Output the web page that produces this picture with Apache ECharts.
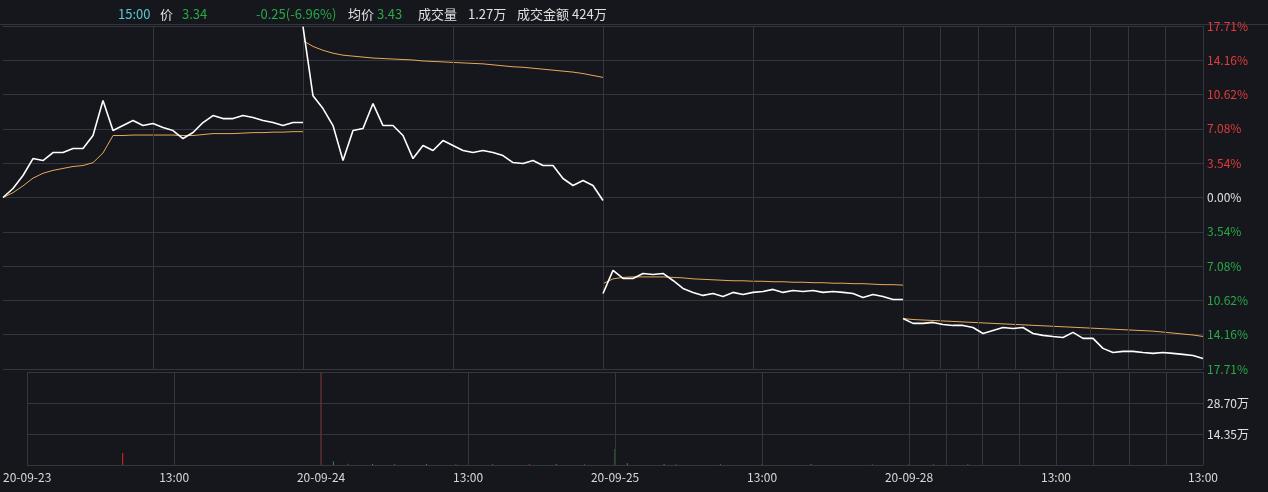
<html lang="zh">
<head>
    <meta charset="UTF-8">
    <title>分时</title>
    <script src="https://cdn.jsdelivr.net/npm/echarts@6/dist/echarts.min.js"></script>
    <style>
        html, body { margin: 0; padding: 0; background: #15171c; }
        #chart { width: 1268px; height: 492px; }
    </style>
</head>
<body>
<div id="chart"></div>
<script>
    // 涨跌幅 (%)，每天 31 个点，每 8 分钟一个
    var day1Price = [0, 0.93, 2.27, 4.02, 3.82, 4.64, 4.64, 5.06, 5.06, 6.4, 10.01, 6.91, 7.43, 7.95, 7.43, 7.64, 7.22, 6.91, 6.09, 6.71, 7.74, 8.46, 8.15, 8.15, 8.46, 8.26, 7.95, 7.74, 7.43, 7.74, 7.74];
    var day2Price = [17.65, 10.5, 9.18, 7.43, 3.82, 6.91, 7.12, 9.7, 7.43, 7.43, 6.4, 4.02, 5.37, 4.85, 5.88, 5.37, 4.85, 4.64, 4.85, 4.64, 4.33, 3.61, 3.51, 3.82, 3.3, 3.3, 1.96, 1.24, 1.75, 1.24, -0.31];
    var day3Price = [-9.91, -7.53, -8.36, -8.36, -7.84, -7.95, -7.84, -8.57, -9.39, -9.8, -10.11, -9.91, -10.22, -9.8, -10.01, -9.8, -9.7, -9.49, -9.8, -9.6, -9.7, -9.6, -9.8, -9.7, -9.8, -9.91, -10.32, -10.01, -10.22, -10.53, -10.53];
    var day4Price = [-12.49, -13.0, -13.0, -12.9, -13.11, -13.21, -13.21, -13.42, -14.04, -13.73, -13.42, -13.52, -13.42, -14.04, -14.24, -14.35, -14.45, -13.93, -14.55, -14.55, -15.58, -16.0, -15.89, -15.89, -16.0, -16.1, -16.0, -16.1, -16.2, -16.31, -16.62];
    // 均价 (%)
    var day1Avg = [0, 0.5, 1.2, 2.0, 2.5, 2.8, 3.0, 3.2, 3.3, 3.6, 4.6, 6.4, 6.4, 6.45, 6.45, 6.45, 6.45, 6.45, 6.4, 6.4, 6.5, 6.6, 6.6, 6.6, 6.65, 6.7, 6.7, 6.75, 6.75, 6.8, 6.8];
    var day2Avg = [16.2, 15.6, 15.2, 14.9, 14.7, 14.6, 14.5, 14.4, 14.35, 14.3, 14.25, 14.2, 14.1, 14.05, 14.0, 13.95, 13.9, 13.85, 13.8, 13.7, 13.6, 13.5, 13.45, 13.35, 13.25, 13.15, 13.05, 12.95, 12.8, 12.6, 12.4];
    var day3Avg = [-8.9, -8.4, -8.25, -8.2, -8.2, -8.2, -8.2, -8.25, -8.3, -8.4, -8.45, -8.5, -8.55, -8.6, -8.6, -8.65, -8.65, -8.7, -8.7, -8.75, -8.75, -8.8, -8.8, -8.85, -8.85, -8.9, -8.9, -8.95, -9.0, -9.0, -9.05];
    var day4Avg = [-12.5, -12.6, -12.65, -12.7, -12.75, -12.8, -12.85, -12.9, -12.95, -13.0, -13.05, -13.1, -13.15, -13.2, -13.25, -13.3, -13.35, -13.4, -13.45, -13.5, -13.55, -13.6, -13.65, -13.7, -13.75, -13.8, -13.9, -14.0, -14.1, -14.2, -14.35];
    // 成交量 (万)：[分钟, 量]
    var volUp = [[78, 5.5], [240, 43.0], [262, 0.6], [300, 0.5], [350, 0.4], [410, 0.5], [455, 0.4], [530, 0.4], [600, 0.5], [690, 0.4], [740, 0.4]];
    var volDown = [[250, 1.6], [282, 0.5], [326, 0.5], [380, 0.4], [432, 0.5], [480, 7.4], [490, 0.8], [520, 0.5], [566, 0.4], [640, 0.5], [720, 0.5], [768, 0.4]];
    var pctLabels = ['0.00%', '3.54%', '7.08%', '10.62%', '14.16%', '17.71%'];
    var volLabels = ['', '14.35万', '28.70万', ''];
    var dateLabels = { 0: '20-09-23', 120: '13:00', 240: '20-09-24', 360: '13:00', 480: '20-09-25', 600: '13:00', 720: '20-09-28', 840: '13:00', 960: '13:00' };
    var vLines = [120, 240, 360, 480, 600, 720, 750, 780, 810, 840, 870, 900, 930, 960];

    var minutes = [];
    for (var m = 0; m <= 960; m++) minutes.push(String(m));

    function dayData(arr, d) {
        return arr.map(function (v, i) { return [d * 240 + i * 8, v]; });
    }

    var chart = echarts.init(document.getElementById('chart'));
    var gridColor = '#33363c';
    var series = [];
    [day1Price, day2Price, day3Price, day4Price].forEach(function (arr, d) {
        series.push({ type: 'line', data: dayData(arr, d), showSymbol: false, lineStyle: { color: '#ffffff', width: 1.6 }, z: 5 });
    });
    [day1Avg, day2Avg, day3Avg, day4Avg].forEach(function (arr, d) {
        series.push({ type: 'line', data: dayData(arr, d), showSymbol: false, lineStyle: { color: '#e8a85a', width: 1 }, z: 4 });
    });
    series[0].markLine = {
        silent: true, symbol: 'none', label: { show: false },
        lineStyle: { color: gridColor, type: 'solid', width: 1 },
        data: vLines.map(function (x) { return { xAxis: x }; })
    };
    series.push({ type: 'bar', xAxisIndex: 1, yAxisIndex: 1, data: volUp.map(function (p) { return [String(p[0]), p[1]]; }), barWidth: 1, itemStyle: { color: '#e02828' },
        markLine: { silent: true, symbol: 'none', label: { show: false }, lineStyle: { color: gridColor, type: 'solid', width: 1 },
            data: vLines.concat([0]).map(function (x) { return { xAxis: String(x) }; }) } });
    series.push({ type: 'bar', xAxisIndex: 1, yAxisIndex: 1, data: volDown.map(function (p) { return [String(p[0]), p[1]]; }), barWidth: 1, barGap: '-100%', itemStyle: { color: '#1fa53c' } });

    var option = {
        backgroundColor: '#15171c',
        animation: false,
        grid: [
            { left: 3, right: 65, top: 26, height: 343 },
            { left: 3, right: 65, top: 372, height: 93 }
        ],
        xAxis: [
            { type: 'value', gridIndex: 0, min: 0, max: 960, interval: 30, axisLine: { show: false }, axisTick: { show: false }, axisLabel: { show: false }, splitLine: { show: false } },
            { type: 'category', gridIndex: 1, data: minutes, boundaryGap: false, axisLine: { lineStyle: { color: gridColor } }, axisTick: { show: false }, splitLine: { show: false },
                axisLabel: { color: '#d8d8d8', fontSize: 12, fontFamily: 'Noto Sans CJK SC', margin: 6, interval: 0, hideOverlap: false,
                    formatter: function (v) { return dateLabels[v] || ''; } } }
        ],
        yAxis: [
            { type: 'value', gridIndex: 0, position: 'right', min: -17.71, max: 17.71, interval: 3.542,
                axisLine: { show: false }, axisTick: { show: false },
                splitLine: { lineStyle: { color: gridColor } },
                axisLabel: { fontSize: 12, fontFamily: 'Noto Sans CJK SC', margin: 4,
                    formatter: function (v) { return pctLabels[Math.round(Math.abs(v) / 3.542)]; },
                    color: function (v) { return v > 0.01 ? '#e03c3c' : (v < -0.01 ? '#2aa848' : '#e0e0e0'); } } },
            { type: 'value', gridIndex: 1, position: 'right', min: 0, max: 43.05, interval: 14.35,
                axisLine: { show: false }, axisTick: { show: false },
                splitLine: { lineStyle: { color: gridColor } },
                axisLabel: { color: '#e0e0e0', fontSize: 12, fontFamily: 'Noto Sans CJK SC', margin: 4,
                    formatter: function (v) { return volLabels[Math.round(v / 14.35)]; } } }
        ],
        graphic: [
            { type: 'rect', shape: { x: 0, y: 24, width: 1268, height: 1 }, style: { fill: gridColor } },
            { type: 'text', x: 118, y: 8, style: { text: '15:00', fill: '#5cc8d2', font: '13px "Noto Sans CJK SC"' } },
            { type: 'text', x: 160, y: 8, style: { text: '价', fill: '#e0e0e0', font: '13px "Noto Sans CJK SC"' } },
            { type: 'text', x: 182, y: 8, style: { text: '3.34', fill: '#2aa848', font: '13px "Noto Sans CJK SC"' } },
            { type: 'text', x: 256, y: 8, style: { text: '-0.25(-6.96%)', fill: '#2aa848', font: '13px "Noto Sans CJK SC"' } },
            { type: 'text', x: 348, y: 8, style: { text: '均价', fill: '#e0e0e0', font: '13px "Noto Sans CJK SC"' } },
            { type: 'text', x: 377, y: 8, style: { text: '3.43', fill: '#2aa848', font: '13px "Noto Sans CJK SC"' } },
            { type: 'text', x: 418, y: 8, style: { text: '成交量', fill: '#e0e0e0', font: '13px "Noto Sans CJK SC"' } },
            { type: 'text', x: 468, y: 8, style: { text: '1.27万', fill: '#e0e0e0', font: '13px "Noto Sans CJK SC"' } },
            { type: 'text', x: 517, y: 8, style: { text: '成交金额', fill: '#e0e0e0', font: '13px "Noto Sans CJK SC"' } },
            { type: 'text', x: 572, y: 8, style: { text: '424万', fill: '#e0e0e0', font: '13px "Noto Sans CJK SC"' } }
        ],
        series: series
    };
    chart.setOption(option);
</script>
</body>
</html>
